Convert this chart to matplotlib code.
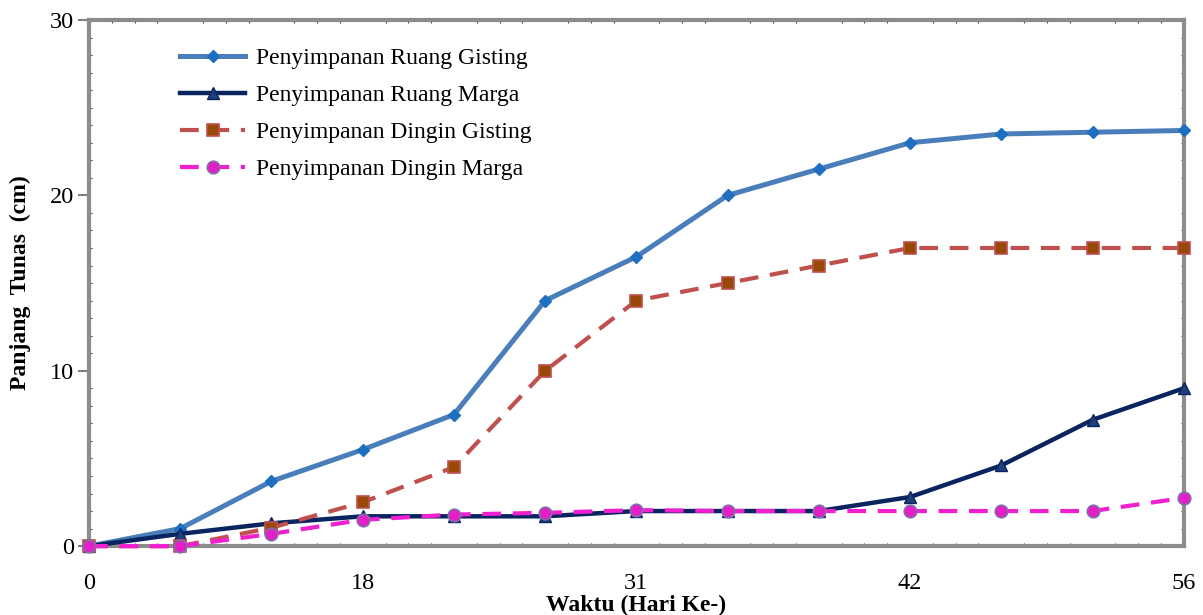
import numpy as np
import matplotlib.pyplot as plt

# Shoot length data over the storage period
hari = ['0', '', '', '18', '', '', '31', '', '', '42', '', '', '56']
ruang_gisting = [0, 1.0, 3.7, 5.5, 7.5, 14.0, 16.5, 20.0, 21.5, 23.0, 23.5, 23.6, 23.7]
ruang_marga = [0, 0.7, 1.3, 1.7, 1.7, 1.7, 2.0, 2.0, 2.0, 2.8, 4.6, 7.2, 9.0]
dingin_gisting = [0, 0, 1.05, 2.5, 4.5, 10.0, 14.0, 15.0, 16.0, 17.0, 17.0, 17.0, 17.0]
dingin_marga = [0, 0, 0.7, 1.5, 1.8, 1.9, 2.05, 2.0, 2.0, 2.0, 2.0, 2.0, 2.75]

plt.rcParams['font.family'] = ['Liberation Serif', 'DejaVu Serif']

x = np.arange(len(hari))

fig = plt.figure(figsize=(12.03, 6.15), dpi=100)
ax = fig.add_axes([0.074, 0.112, 0.91, 0.8555])

ax.plot(x, ruang_gisting, color='#4a7ebb', lw=3.6, marker='D', ms=6.5,
        mfc='#1f6fc0', mec='#1f6fc0', label='Penyimpanan Ruang Gisting', clip_on=False, zorder=3)
ax.plot(x, ruang_marga, color='#0a2460', lw=3.2, marker='^', ms=8,
        mfc='#1f3f7a', mec='#0a2460', label='Penyimpanan Ruang Marga', clip_on=False, zorder=4)
ax.plot(x, dingin_gisting, color='#c0504d', lw=3.0, ls=(0, (4.5, 2.8)), marker='s', ms=9,
        mfc='#984807', mec='#c0504d', mew=1.2, label='Penyimpanan Dingin Gisting', clip_on=False, zorder=5)
ax.plot(x, dingin_marga, color='#f020d0', lw=3.0, ls=(0, (4.5, 2.8)), marker='o', ms=9,
        mfc='#e61ec8', mec='#7f6fa8', mew=1.2, label='Penyimpanan Dingin Marga', clip_on=False, zorder=6)

ax.set_xlim(0, 12)
ax.set_ylim(0, 30)
ax.set_xticks(x)
ax.set_xticklabels(hari)
ax.set_yticks([0, 10, 20, 30])
ax.set_yticks(np.arange(0, 30.1, 1), minor=True)
ax.set_xticks(np.arange(0, 12.01, 0.25), minor=True)
ax.tick_params(axis='both', labelsize=17.5, color='#7f7f7f')
ax.tick_params(axis='x', length=0, pad=19)
ax.tick_params(axis='y', length=8, width=1.5, pad=3)
ax.tick_params(which='minor', length=2, width=0.8, color='#404040', direction='in',
               top=True, right=True)

for sp in ax.spines.values():
    sp.set_color('#8c8c8c')
    sp.set_linewidth(3)

ax.set_xlabel('Waktu (Hari Ke-)', fontsize=17, fontweight='bold', labelpad=1)
ax.set_ylabel('Panjang  Tunas  (cm)', fontsize=17, fontweight='bold', labelpad=13)

ax.legend(loc='upper left', bbox_to_anchor=(0.064, 0.988), frameon=False, fontsize=17,
          handlelength=2.75, handletextpad=0.45, labelspacing=0.66)

fig.savefig('out.png', dpi=100)
